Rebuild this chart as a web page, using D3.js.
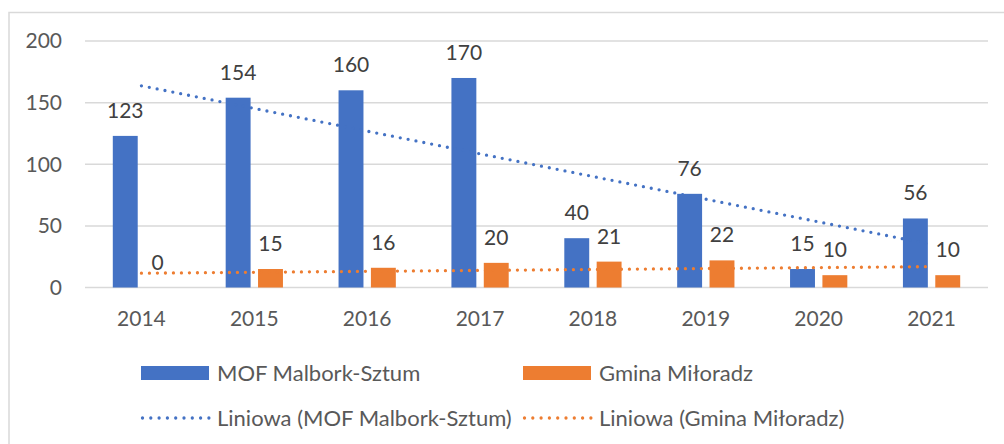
<!DOCTYPE html>
<html>
<head>
<meta charset="utf-8">
<script src="https://cdn.jsdelivr.net/npm/d3@7"></script>
<style>
  body { margin: 0; background: #fff; }
  svg { display: block; font-family: Lato, "Open Sans", sans-serif; }
</style>
</head>
<body>
<svg id="chart" width="1004" height="444"></svg>
<script>
const years = ["2014", "2015", "2016", "2017", "2018", "2019", "2020", "2021"];
const mofValues = [123, 154, 160, 170, 40, 76, 15, 56];
const gminaValues = [0, 15, 16, 20, 21, 22, 10, 10];
const yTicks = [0, 50, 100, 150, 200];
const seriesNames = ["MOF Malbork-Sztum", "Gmina Miłoradz"];
const trendNames = ["Liniowa (MOF Malbork-Sztum)", "Liniowa (Gmina Miłoradz)"];
const colors = ["#4472C4", "#ED7D31"];

const svg = d3.select("#chart");
const margin = { top: 41, right: 16, bottom: 156.5, left: 85 };
const width = 1004, height = 444;
const textColor = "#595959";
const fontSize = 21;

// chart frame
svg.append("path")
  .attr("d", `M9,${height} V12.5 H${width}`)
  .attr("fill", "none")
  .attr("stroke", "#D9D9D9")
  .attr("stroke-width", 1.5);

const x = d3.scaleBand()
  .domain(years)
  .range([margin.left, width - margin.right]);

const x1 = d3.scaleBand()
  .domain([0, 1])
  .range([27.8, x.bandwidth() - 27.8])
  .paddingInner(0.23);

const y = d3.scaleLinear()
  .domain([0, 200])
  .range([height - margin.bottom, margin.top]);

// gridlines
svg.append("g")
  .selectAll("line")
  .data(yTicks)
  .join("line")
  .attr("x1", margin.left)
  .attr("x2", width - margin.right)
  .attr("y1", (d) => y(d))
  .attr("y2", (d) => y(d))
  .attr("stroke", "#D9D9D9")
  .attr("stroke-width", 1.5);

// y tick labels
svg.append("g")
  .selectAll("text")
  .data(yTicks)
  .join("text")
  .attr("x", 62)
  .attr("y", (d) => y(d))
  .attr("dy", "0.35em")
  .attr("text-anchor", "end")
  .attr("font-size", fontSize)
  .attr("fill", textColor)
  .text((d) => d);

// x labels
svg.append("g")
  .selectAll("text")
  .data(years)
  .join("text")
  .attr("x", (d) => x(d) + x.bandwidth() / 2)
  .attr("y", 326)
  .attr("text-anchor", "middle")
  .attr("font-size", fontSize)
  .attr("fill", textColor)
  .text((d) => d);

const series = [mofValues, gminaValues];

series.forEach((values, s) => {
  const g = svg.append("g");
  g.selectAll("rect")
    .data(values)
    .join("rect")
    .attr("x", (d, i) => x(years[i]) + x1(s))
    .attr("y", (d) => y(d))
    .attr("width", x1.bandwidth())
    .attr("height", (d) => y(0) - y(d))
    .attr("fill", colors[s]);

  g.selectAll("text")
    .data(values)
    .join("text")
    .attr("x", (d, i) => x(years[i]) + x1(s) + x1.bandwidth() / 2)
    .attr("y", (d) => y(d) - 18)
    .attr("text-anchor", "middle")
    .attr("font-size", fontSize)
    .attr("fill", "#404040")
    .text((d) => d);
});

// linear trendlines (least squares, like Excel "Liniowa")
function trend(values) {
  const n = values.length;
  const xs = d3.range(1, n + 1);
  const mx = d3.mean(xs), my = d3.mean(values);
  const sxy = d3.sum(xs, (v, i) => (v - mx) * (values[i] - my));
  const sxx = d3.sum(xs, (v) => (v - mx) ** 2);
  const b = sxy / sxx;
  return xs.map((v) => my + b * (v - mx));
}

const line = d3.line()
  .x((d, i) => x(years[i]) + x.bandwidth() / 2)
  .y((d) => y(d));

series.forEach((values, s) => {
  svg.append("path")
    .attr("d", line(trend(values)))
    .attr("fill", "none")
    .attr("stroke", colors[s])
    .attr("stroke-width", 3.3)
    .attr("stroke-linecap", "round")
    .attr("stroke-dasharray", "0 8");
});

// legend
const legendX = [141, 523];
const legend = svg.append("g").attr("font-size", 22).attr("fill", textColor);

seriesNames.forEach((name, s) => {
  legend.append("rect")
    .attr("x", legendX[s])
    .attr("y", 366)
    .attr("width", 68)
    .attr("height", 14)
    .attr("fill", colors[s]);
  legend.append("text")
    .attr("x", legendX[s] + 76)
    .attr("y", 373)
    .attr("dy", "0.35em")
    .text(name);
});

trendNames.forEach((name, s) => {
  legend.append("line")
    .attr("x1", legendX[s] + 1.5)
    .attr("x2", legendX[s] + 68)
    .attr("y1", 418)
    .attr("y2", 418)
    .attr("stroke", colors[s])
    .attr("stroke-width", 3.3)
    .attr("stroke-linecap", "round")
    .attr("stroke-dasharray", "0 8.3");
  legend.append("text")
    .attr("x", legendX[s] + 76)
    .attr("y", 418)
    .attr("dy", "0.35em")
    .text(name);
});
</script>
</body>
</html>
